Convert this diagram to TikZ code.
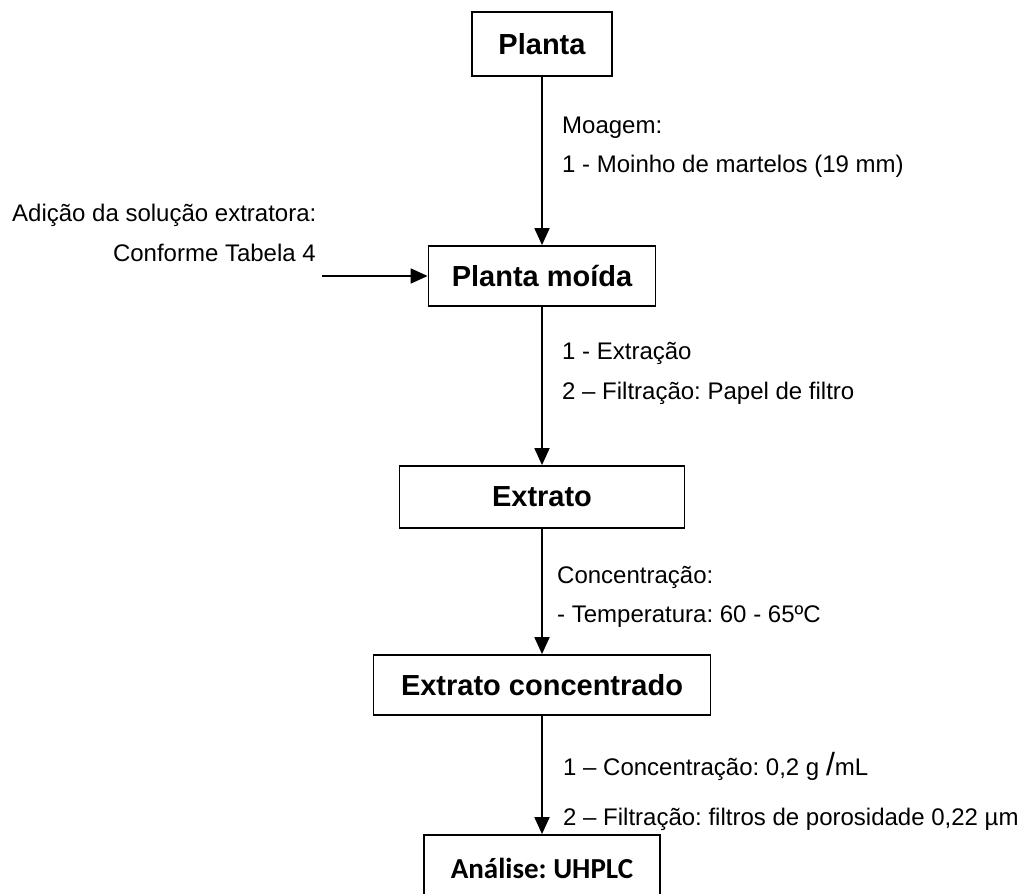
\documentclass[tikz,border=0pt]{standalone}
\usepackage{fontspec}
\setmainfont{Liberation Sans}
\newfontfamily\calibrifont{Carlito}
\usetikzlibrary{arrows.meta}
\frenchspacing
\begin{document}
\begin{tikzpicture}[x=1pt,y=-1pt,
  box/.style={draw,line width=1.8pt,inner sep=0pt,font=\fontsize{29}{32}\selectfont\bfseries},
  lbl/.style={inner sep=0pt,font=\fontsize{24}{28}\selectfont\frenchspacing},
  arr/.style={line width=1.8pt,-{Triangle[width=15pt,length=17pt]}}]
\useasboundingbox (0,0) rectangle (1023,894);
\clip (0,0) rectangle (1023,894);
% boxes
\node[box,minimum width=140pt,minimum height=64pt] (planta) at (542,44) {Planta};
\node[box,minimum width=227pt,minimum height=60pt] (moida) at (542,276) {Planta moída};
\node[box,minimum width=285pt,minimum height=62pt] (extrato) at (542,497) {Extrato};
\node[box,minimum width=337pt,minimum height=60pt] (conc) at (542,685) {Extrato concentrado};
\node[box,minimum width=236pt,minimum height=76pt,font=\fontsize{29}{32}\selectfont\calibrifont\bfseries,text depth=10pt] (anal) at (542,873) {Análise: UHPLC};
% connectors
\coordinate (lin) at (322,276);
\draw[arr] (planta) -- (moida);
\draw[arr] (lin) -- (moida);
\draw[arr] (moida) -- (extrato);
\draw[arr] (extrato) -- (conc);
\draw[arr] (conc) -- (anal);
% labels
\node[lbl,anchor=base west] (m1) at (562,133) {Moagem:};
\node[lbl,anchor=base west] (m2) at (562,172) {1 - Moinho de martelos (19 mm)};
\node[lbl,anchor=base west] (a1) at (12,221) {Adição da solução extratora:};
\node[lbl,anchor=base east] (a2) at (316,261) {Conforme Tabela 4};
\node[lbl,anchor=base west] (e1) at (562,359) {1 - Extração};
\node[lbl,anchor=base west] (e2) at (562,399) {2 – Filtração: Papel de filtro};
\node[lbl,anchor=base west] (c1) at (557,583) {Concentração:};
\node[lbl,anchor=base west] (c2) at (557,622) {- Temperatura: 60 - 65ºC};
\node[lbl,anchor=base west] (f1) at (563,775) {1 – Concentração: 0,2 g {\fontsize{32}{32}\selectfont /}mL};
\node[lbl,anchor=base west] (f2) at (563,825) {2 – Filtração: filtros de porosidade 0,22 µm};
\end{tikzpicture}
\end{document}
